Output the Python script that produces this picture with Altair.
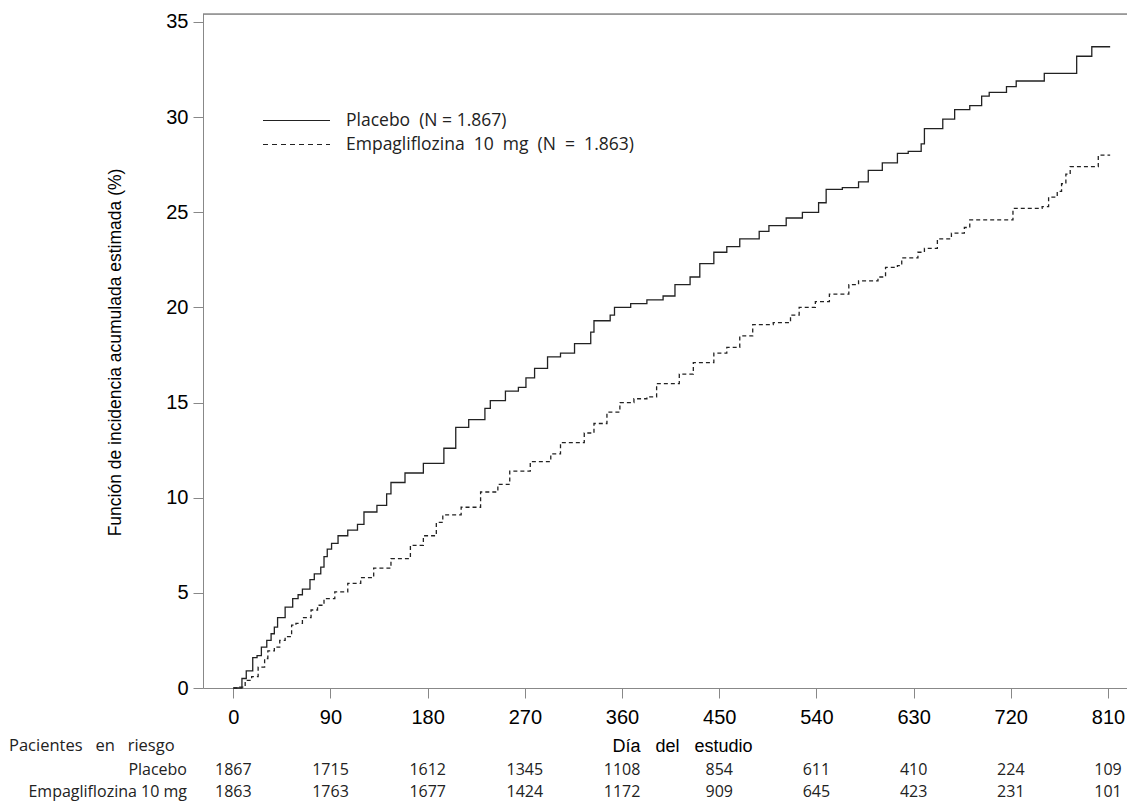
import altair as alt
import pandas as pd

# ---- data ----
p_days = [0, 8, 12, 18, 22, 26, 31, 35, 38, 41, 48, 55, 60, 64, 71, 75, 81, 84, 87, 91, 97, 106,
          115, 121, 133, 142, 146, 159, 176, 195, 206, 218, 233,
          238, 252, 264, 271, 279, 291, 303, 316, 331, 334, 349, 353, 368, 383, 398, 409, 423, 432,
          445, 457, 469, 487, 496, 512, 527, 542, 549, 564, 579, 588, 601, 615, 625, 637, 640, 657,
          668, 682, 693, 700, 716, 725, 751, 781, 795, 812]
p_vals = [0, 0.5, 0.9, 1.6, 1.7, 2.15, 2.5, 2.85, 3.2, 3.7, 4.25, 4.7, 4.9, 5.2, 5.7, 6.0, 6.35, 6.9,
          7.3, 7.6, 8.0, 8.3, 8.6, 9.25, 9.6, 10.2, 10.8, 11.3, 11.8, 12.6, 13.7,
          14.1, 14.7, 15.1, 15.6, 15.8, 16.3, 16.8, 17.4, 17.6, 18.1, 18.7, 19.3, 19.6, 20.0, 20.2, 20.4,
          20.6, 21.2, 21.6, 22.3, 22.9, 23.2, 23.6, 24.0, 24.3, 24.7, 25.0, 25.5, 26.2, 26.3, 26.6, 27.2,
          27.6, 28.1, 28.2, 28.6, 29.4, 29.9, 30.4, 30.6, 31.1, 31.3, 31.6, 31.9, 32.3, 33.2, 33.7, 33.7]

e_days = [0, 6, 11, 17, 23, 29, 32, 38, 43, 48, 54, 58, 64, 72, 78, 84, 94, 106, 118, 130, 146, 164,
          176, 188, 194, 211, 229, 245, 256,
          275, 294, 303, 325, 334, 346, 358, 371, 383, 392, 413, 426, 445, 457, 469, 481, 500, 516, 524,
          539, 552, 570, 579, 597, 604, 615, 619, 634, 640, 652, 665, 677, 682, 722, 749, 755, 763, 767,
          771, 775, 801, 812]
e_vals = [0, 0.05, 0.4, 0.6, 1.1, 1.55, 1.95, 2.15, 2.5, 2.7, 3.3, 3.4, 3.7, 4.1, 4.35, 4.7, 5.05,
          5.5, 5.8, 6.3, 6.8, 7.5, 8.0, 8.7, 9.1, 9.5, 10.3,
          10.7, 11.4, 11.9, 12.3, 12.9, 13.4, 13.9, 14.5, 15.0, 15.2, 15.3, 16.0, 16.5, 17.1, 17.6, 17.9,
          18.5, 19.1, 19.2, 19.6, 20.0, 20.3, 20.7, 21.2, 21.4, 21.6, 22.1, 22.2, 22.6, 22.9, 23.1, 23.6,
          23.9, 24.2, 24.6, 25.2, 25.3, 25.8, 26.1, 26.5, 27.0, 27.4, 28.0, 28.0]

risk_days = [0, 90, 180, 270, 360, 450, 540, 630, 720, 810]
risk_placebo = [1867, 1715, 1612, 1345, 1108, 854, 611, 410, 224, 109]
risk_empa = [1863, 1763, 1677, 1424, 1172, 909, 645, 423, 231, 101]

y_ticks = [0, 5, 10, 15, 20, 25, 30, 35]
series_labels = ["Placebo  (N = 1.867)", "Empagliflozina  10  mg  (N  =  1.863)"]
row_labels = ["Placebo", "Empagliflozina 10 mg"]
risk_header = "Pacientes\u00a0\u00a0 en\u00a0\u00a0 riesgo"
x_title = "Día\u00a0\u00a0 del\u00a0\u00a0 estudio"
y_title = "Función de incidencia acumulada estimada (%)"

FONT = "Open Sans"
INK = "#222222"
FRAME = "#555555"


def nb(s):
    # keep repeated spaces visible
    return s.replace("  ", "\u00a0 ")


W, H = 924, 674
xscale = alt.Scale(domain=[-28.06, 827.6], nice=False, zero=False)
yscale = alt.Scale(domain=[0, 35.42], nice=False)

x_axis = alt.Axis(values=risk_days, title=x_title, labelFontSize=20, labelPadding=9,
                  tickSize=10, grid=False, titleX=479, titleY=58, titleBaseline="middle",
                  titleAlign="center", titleFontWeight="normal", titleFontSize=18)
y_axis = alt.Axis(values=y_ticks, title=y_title, labelFontSize=20, labelPadding=5, tickSize=10,
                  grid=False, titleX=-88, titleY=338, titleAngle=270, titleAlign="center",
                  titleBaseline="middle", titleFontWeight="normal", titleFontSize=17.5)

X = alt.X("day:Q", scale=xscale, axis=x_axis)
Y = alt.Y("pct:Q", scale=yscale, axis=y_axis)

placebo_df = pd.DataFrame({"day": p_days, "pct": p_vals})
empa_df = pd.DataFrame({"day": e_days, "pct": e_vals})
risk_df = pd.DataFrame({"day": risk_days, "placebo": risk_placebo, "empa": risk_empa})

placebo_line = alt.Chart(placebo_df).mark_line(
    interpolate="step-after", color=INK, strokeWidth=1.3).encode(x=X, y=Y)
empa_line = alt.Chart(empa_df).mark_line(
    interpolate="step-after", color=INK, strokeWidth=1.3, strokeDash=[4, 3]).encode(x=X, y=Y)

one = pd.DataFrame({"k": [0]})

# top frame line
top_rule = alt.Chart(one).mark_rule(color=FRAME, strokeWidth=1).encode(
    x=alt.value(0), x2=alt.value(W), y=alt.value(0))

# legend (drawn by hand, as in the reference)
LY1, LY2, LF = 106.5, 130.5, 17.5
leg_solid = alt.Chart(one).mark_rule(color=INK, strokeWidth=1.2).encode(
    x=alt.value(60), x2=alt.value(127), y=alt.value(LY1))
leg_dash = alt.Chart(one).mark_rule(color=INK, strokeWidth=1.2, strokeDash=[5, 4]).encode(
    x=alt.value(60), x2=alt.value(127), y=alt.value(LY2))
leg_t1 = alt.Chart(one).mark_text(font=FONT, fontSize=LF, color=INK, align="left", baseline="middle").encode(
    x=alt.value(143), y=alt.value(LY1), text=alt.value(nb(series_labels[0])))
leg_t2 = alt.Chart(one).mark_text(font=FONT, fontSize=LF, color=INK, align="left", baseline="middle").encode(
    x=alt.value(143), y=alt.value(LY2), text=alt.value(nb(series_labels[1])))

# at-risk table
TF = 16
risk_p = alt.Chart(risk_df).mark_text(font=FONT, fontSize=TF, color=INK, baseline="middle").encode(
    x=X, y=alt.value(756), text=alt.Text("placebo:Q", format="d"))
risk_e = alt.Chart(risk_df).mark_text(font=FONT, fontSize=TF, color=INK, baseline="middle").encode(
    x=X, y=alt.value(778), text=alt.Text("empa:Q", format="d"))
hdr = alt.Chart(one).mark_text(font=FONT, fontSize=16.5, color=INK, align="left", baseline="middle").encode(
    x=alt.value(-194), y=alt.value(732), text=alt.value(risk_header))
lab1 = alt.Chart(one).mark_text(font=FONT, fontSize=TF, color=INK, align="right", baseline="middle").encode(
    x=alt.value(-16), y=alt.value(756), text=alt.value(row_labels[0]))
lab2 = alt.Chart(one).mark_text(font=FONT, fontSize=TF, color=INK, align="right", baseline="middle").encode(
    x=alt.value(-16), y=alt.value(778), text=alt.value(row_labels[1]))

chart = alt.layer(
    placebo_line, empa_line, top_rule, leg_solid, leg_dash, leg_t1, leg_t2,
    risk_p, risk_e, hdr, lab1, lab2
).properties(
    width=W, height=H,
    autosize=alt.AutoSizeParams(type="none"),
    padding={"left": 195, "top": 6, "right": 0, "bottom": 115},
).configure_view(
    strokeWidth=0
).configure_axis(
    domainColor=FRAME, tickColor=FRAME, labelColor=INK, titleColor=INK,
    labelFont=FONT, titleFont=FONT, domainWidth=1, tickWidth=1
).configure(background="white")

chart.save("out.html", embed_options={"renderer": "svg", "actions": False})
